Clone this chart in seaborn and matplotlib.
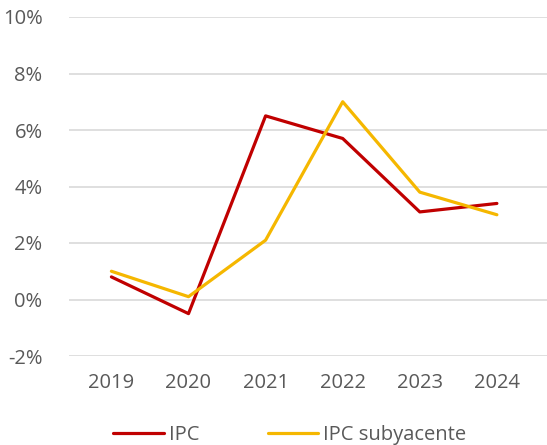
import pandas as pd
import seaborn as sns
import matplotlib.pyplot as plt
from matplotlib.ticker import FuncFormatter

years = ['2019', '2020', '2021', '2022', '2023', '2024']
ipc = [0.8, -0.5, 6.5, 5.7, 3.1, 3.4]
ipc_subyacente = [1.0, 0.1, 2.1, 7.0, 3.8, 3.0]
series_names = ['IPC', 'IPC subyacente']
colors = ['#C00000', '#F5B700']

df = pd.DataFrame({
    'year': years * 2,
    'value': ipc + ipc_subyacente,
    'serie': [series_names[0]] * len(years) + [series_names[1]] * len(years),
})

sns.set_theme(style='white')
plt.rcParams['font.family'] = ['Open Sans', 'DejaVu Sans']

fig = plt.figure(figsize=(5.47, 4.45), dpi=100)
ax = fig.add_axes([69 / 547, 1 - 356 / 445, 1 - 69 / 547, (356 - 17) / 445])

sns.lineplot(data=df, x='year', y='value', hue='serie', palette=colors,
             linewidth=2.3, sort=False, ax=ax)

ax.set_ylim(-2, 10)
ax.set_yticks(range(-2, 11, 2))
ax.yaxis.set_major_formatter(FuncFormatter(lambda v, p: f'{v:.0f}%'))
ax.set_xlim(-0.55, 5.65)
ax.grid(axis='y', color='#d9d9d9', linewidth=1.2)
ax.set_axisbelow(True)
for s in ax.spines.values():
    s.set_visible(False)
ax.set_xlabel('')
ax.set_ylabel('')
ax.tick_params(axis='both', length=0, labelsize=14.5, labelcolor='#595959')
ax.tick_params(axis='y', pad=19)
ax.tick_params(axis='x', pad=12)

leg = ax.legend(loc='upper center', bbox_to_anchor=(0.462, -0.15), ncol=2,
                frameon=False, fontsize=14.5, handlelength=2.5,
                columnspacing=3.4, handletextpad=0.25)
for t in leg.get_texts():
    t.set_color('#595959')

fig.savefig('out.png', dpi=100)
